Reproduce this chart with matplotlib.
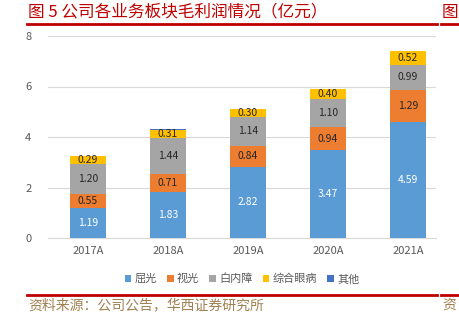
import numpy as np
import matplotlib
matplotlib.use("Agg")
import matplotlib.pyplot as plt
from matplotlib.lines import Line2D
from matplotlib.patches import Patch

plt.rcParams['font.family'] = ['Noto Sans CJK SC', 'DejaVu Sans']

years = ['2017A', '2018A', '2019A', '2020A', '2021A']
quguang = [1.19, 1.83, 2.82, 3.47, 4.59]
shiguang = [0.55, 0.71, 0.84, 0.94, 1.29]
baineizhang = [1.20, 1.44, 1.14, 1.10, 0.99]
zonghe = [0.29, 0.31, 0.30, 0.40, 0.52]
qita = [0.01, 0.02, 0.01, 0.01, 0.03]

names = ['屈光', '视光', '白内障', '综合眼病', '其他']
colors = ['#5B9BD5', '#ED7D31', '#A5A5A5', '#FFC000', '#4472C4']
series = [quguang, shiguang, baineizhang, zonghe, qita]
label_colors = ['white', '#262626', '#262626', '#262626', None]

fig = plt.figure(figsize=(4.6, 3.21), dpi=100)
ax = fig.add_axes([48 / 460, 1 - 238 / 321, 388 / 460, 202 / 321])

x = np.arange(len(years))
bottom = np.zeros(len(years))
for vals, c, lc in zip(series, colors, label_colors):
    ax.bar(x, vals, width=0.46, bottom=bottom, color=c, zorder=3)
    if lc is not None:
        for xi, b, v in zip(x, bottom, vals):
            ax.text(xi, b + v / 2, f'{v:.2f}', ha='center', va='center',
                    fontsize=7.5, color=lc, zorder=4)
    bottom = bottom + np.array(vals)

ax.set_xlim(-0.5, 4.35)
ax.set_ylim(0, 8)
ax.set_yticks([0, 2, 4, 6, 8])
ax.set_xticks(x)
ax.set_xticklabels(years)
ax.yaxis.grid(True, color='#D9D9D9', linewidth=0.8, zorder=0)
for s in ['top', 'right', 'left']:
    ax.spines[s].set_visible(False)
ax.spines['bottom'].set_color('#D9D9D9')
ax.tick_params(axis='both', length=0, labelsize=8, colors='#595959', pad=6)
ax.tick_params(axis='y', pad=12)

handles = [Patch(facecolor=c, edgecolor='none') for c in colors]
fig.legend(handles, names, loc='center', bbox_to_anchor=(242 / 460, 1 - 279 / 321),
           ncol=5, frameon=False, fontsize=8, handlelength=0.6, handleheight=0.6,
           handletextpad=0.3, columnspacing=0.9, labelcolor='#595959')

# header and footer rules
red = '#C00000'
fig.add_artist(Line2D([27 / 460, 437 / 460], [1 - 24 / 321] * 2, color=red, lw=2))
fig.add_artist(Line2D([441 / 460, 1.0], [1 - 24 / 321] * 2, color=red, lw=2))
fig.add_artist(Line2D([27 / 460, 437 / 460], [1 - 295 / 321] * 2, color=red, lw=2))
fig.add_artist(Line2D([441 / 460, 1.0], [1 - 295 / 321] * 2, color=red, lw=2))

fig.text(28 / 460, 1 - 12 / 321, '图 5 公司各业务板块毛利润情况（亿元）', color=red,
         fontsize=12, va='center', ha='left')
fig.text(442 / 460, 1 - 12 / 321, '图', color=red, fontsize=12, va='center', ha='left')
fig.text(28 / 460, 1 - 305 / 321, '资料来源：公司公告，华西证券研究所', color='#A08050',
         fontsize=10, va='center', ha='left')
fig.text(442 / 460, 1 - 305 / 321, '资', color='#A08050', fontsize=10, va='center', ha='left')

fig.savefig('out.png', dpi=100)
